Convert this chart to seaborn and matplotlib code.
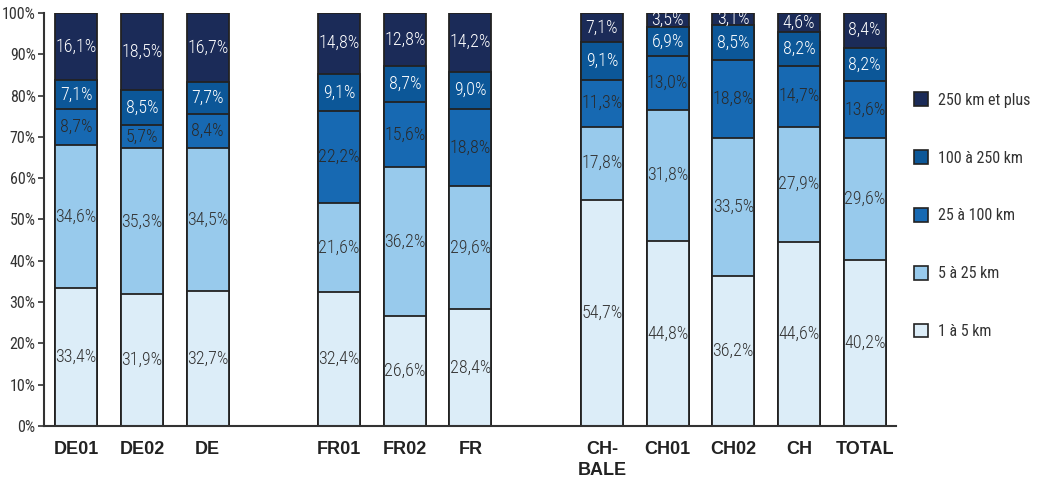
import numpy as np
import pandas as pd
import matplotlib
matplotlib.use("Agg")
import matplotlib.pyplot as plt
from matplotlib import font_manager
from matplotlib.patches import Patch
import seaborn as sns

# Sites, grouped by country with an empty slot between groups
categories = ["DE01", "DE02", "DE", "FR01", "FR02", "FR",
              "CH-\nBALE", "CH01", "CH02", "CH", "TOTAL"]
slots = [0, 1, 2, 4, 5, 6, 8, 9, 10, 11, 12]

bands = ["1 à 5 km", "5 à 25 km", "25 à 100 km", "100 à 250 km", "250 km et plus"]

# Share of trips per distance band (%), bottom to top
km_1_5 = [33.4, 31.9, 32.7, 32.4, 26.6, 28.4, 54.7, 44.8, 36.2, 44.6, 40.2]
km_5_25 = [34.6, 35.3, 34.5, 21.6, 36.2, 29.6, 17.8, 31.8, 33.5, 27.9, 29.6]
km_25_100 = [8.7, 5.7, 8.4, 22.2, 15.6, 18.8, 11.3, 13.0, 18.8, 14.7, 13.6]
km_100_250 = [7.1, 8.5, 7.7, 9.1, 8.7, 9.0, 9.1, 6.9, 8.5, 8.2, 8.2]
km_250_plus = [16.1, 18.5, 16.7, 14.8, 12.8, 14.2, 7.1, 3.5, 3.1, 4.6, 8.4]

series = [km_1_5, km_5_25, km_25_100, km_100_250, km_250_plus]
colors = ["#dcedf8", "#98caec", "#1769b2", "#0c5798", "#1b2b58"]
text_colors = ["#333333", "#333333", "#2a2a2a", "white", "white"]


def pick_font(names):
    for n in names:
        try:
            font_manager.findfont(n, fallback_to_default=False)
            return n
        except Exception:
            continue
    return "DejaVu Sans"


narrow = pick_font(["Liberation Sans Narrow", "Roboto Condensed", "Liberation Sans"])
bold = pick_font(["Liberation Sans", "Arial", "DejaVu Sans"])

sns.set_theme(style="white")
plt.rcParams["font.family"] = [narrow, "DejaVu Sans"]

rows = []
for b, vals in zip(bands, series):
    for c, s, v in zip(categories, slots, vals):
        rows.append({"site": c, "pos": s, "band": b, "value": v})
df = pd.DataFrame(rows)
df["bottom"] = df.groupby("site")["value"].cumsum() - df["value"]
df["top"] = df["bottom"] + df["value"]

fig = plt.figure(figsize=(10.41, 4.82), dpi=100)
ax = fig.add_axes([0.0423, 0.1162, 0.818, 0.857])

# Stack drawn from the tallest cumulative layer down so each band sits on the one below
for b, col in reversed(list(zip(bands, colors))):
    sub = df[df["band"] == b]
    sns.barplot(data=sub, x="pos", y="top", native_scale=True, width=0.64,
                color=col, saturation=1, edgecolor="#222222", linewidth=1.3,
                ax=ax, zorder=2)

for b, tc in zip(bands, text_colors):
    sub = df[df["band"] == b]
    for _, r in sub.iterrows():
        ax.text(r["pos"], r["bottom"] + r["value"] / 2,
                f"{r['value']:.1f}%".replace(".", ","),
                ha="center", va="center", fontsize=13, color=tc, zorder=3,
                fontweight="light")

ax.set_xlim(-0.49, 12.47)
ax.set_ylim(0, 100)
ax.set_yticks(np.arange(0, 101, 10))
ax.set_yticklabels([f"{t}%" for t in range(0, 101, 10)], fontsize=11.5, color="#333333")
ax.set_xticks(slots)
ax.set_xticklabels(categories, fontsize=13, fontweight="bold", family=bold,
                   color="#222222", va="top", linespacing=1.3)
ax.set_xlabel("")
ax.set_ylabel("")
ax.tick_params(axis="y", which="both", left=True, length=4, width=1.2,
               color="#333333", pad=2)
ax.tick_params(axis="x", length=0, pad=11)

for side in ["top", "right"]:
    ax.spines[side].set_visible(False)
for side in ["left", "bottom"]:
    ax.spines[side].set_color("#333333")
    ax.spines[side].set_linewidth(1.5)
ax.grid(False)

handles = [Patch(facecolor=c, edgecolor="#222222", linewidth=1.2, label=b)
           for b, c in zip(bands, colors)]
fig.legend(handles=handles[::-1], loc="upper left",
           bbox_to_anchor=(0.864, 0.838), frameon=False, fontsize=11.5,
           handlelength=0.9, handleheight=0.9, handletextpad=0.6,
           labelspacing=2.68, labelcolor="#333333")

fig.savefig("out.png", dpi=100)
